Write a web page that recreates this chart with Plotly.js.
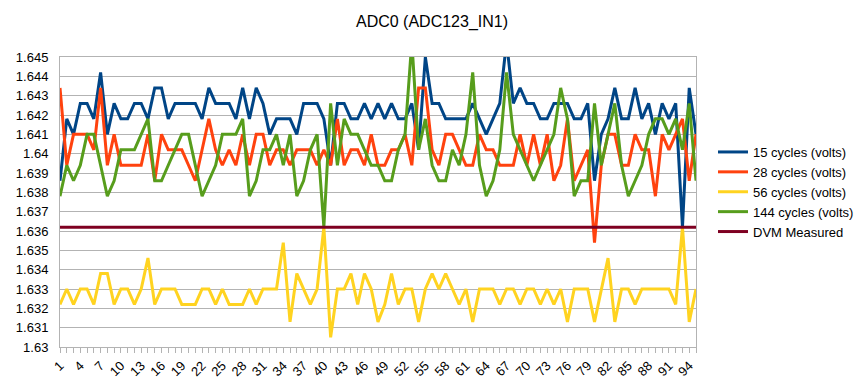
<!DOCTYPE html>
<html>
<head>
<meta charset="utf-8">
<script src="https://cdn.plot.ly/plotly-3.0.1.min.js"></script>
<style>
html,body{margin:0;padding:0;background:#fff;}
#chart{width:864px;height:384px;}
</style>
</head>
<body>
<div id="chart"></div>
<script>
// Sample numbers (categories)
const samples = [1,2,3,4,5,6,7,8,9,10,11,12,13,14,15,16,17,18,19,20,21,22,23,24,25,26,27,28,29,30,31,32,33,34,35,36,37,38,39,40,41,42,43,44,45,46,47,48,49,50,51,52,53,54,55,56,57,58,59,60,61,62,63,64,65,66,67,68,69,70,71,72,73,74,75,76,77,78,79,80,81,82,83,84,85,86,87,88,89,90,91,92,93,94,95];

// 15 cycles (volts)
const cyc15 = [1.6386,1.6418,1.6410,1.6426,1.6426,1.6418,1.6442,1.6410,1.6426,1.6418,
1.6418,1.6426,1.6426,1.6418,1.6434,1.6434,1.6418,1.6426,1.6426,1.6426,
1.6426,1.6418,1.6434,1.6426,1.6426,1.6426,1.6418,1.6434,1.6418,1.6434,
1.6426,1.6410,1.6418,1.6418,1.6418,1.6410,1.6426,1.6426,1.6426,1.6418,
1.6394,1.6426,1.6426,1.6418,1.6418,1.6426,1.6418,1.6426,1.6418,1.6426,
1.6418,1.6418,1.6426,1.6402,1.6450,1.6426,1.6426,1.6418,1.6418,1.6418,
1.6418,1.6426,1.6418,1.6410,1.6418,1.6426,1.6458,1.6426,1.6434,1.6426,
1.6426,1.6418,1.6418,1.6426,1.6426,1.6426,1.6418,1.6418,1.6426,1.6386,
1.6410,1.6418,1.6434,1.6418,1.6418,1.6434,1.6418,1.6426,1.6410,1.6426,
1.6418,1.6426,1.6362,1.6434,1.6410];

// 28 cycles (volts)
const cyc28 = [1.6434,1.6394,1.6410,1.6410,1.6410,1.6402,1.6434,1.6394,1.6410,1.6394,
1.6394,1.6394,1.6394,1.6410,1.6386,1.6410,1.6402,1.6402,1.6402,1.6394,
1.6386,1.6402,1.6418,1.6402,1.6394,1.6402,1.6394,1.6410,1.6394,1.6410,
1.6410,1.6394,1.6402,1.6402,1.6394,1.6402,1.6402,1.6402,1.6394,1.6402,
1.6394,1.6418,1.6394,1.6402,1.6402,1.6394,1.6410,1.6394,1.6394,1.6402,
1.6402,1.6410,1.6394,1.6434,1.6434,1.6402,1.6394,1.6410,1.6410,1.6402,
1.6394,1.6394,1.6410,1.6402,1.6402,1.6394,1.6394,1.6394,1.6410,1.6394,
1.6410,1.6394,1.6410,1.6386,1.6394,1.6418,1.6386,1.6394,1.6402,1.6354,
1.6394,1.6410,1.6410,1.6394,1.6394,1.6410,1.6402,1.6402,1.6378,1.6410,
1.6402,1.6410,1.6418,1.6386,1.6410];

// 56 cycles (volts)
const cyc56 = [1.6322,1.6330,1.6322,1.6330,1.6330,1.6322,1.6338,1.6338,1.6322,1.6330,
1.6330,1.6322,1.6330,1.6346,1.6322,1.6330,1.6330,1.6330,1.6322,1.6322,
1.6322,1.6330,1.6330,1.6322,1.6330,1.6322,1.6322,1.6322,1.6330,1.6322,
1.6330,1.6330,1.6330,1.6354,1.6313,1.6338,1.6330,1.6322,1.6330,1.6362,
1.6305,1.6330,1.6330,1.6338,1.6322,1.6338,1.6330,1.6313,1.6322,1.6338,
1.6322,1.6330,1.6330,1.6313,1.6330,1.6338,1.6330,1.6338,1.6330,1.6322,
1.6330,1.6313,1.6330,1.6330,1.6330,1.6322,1.6330,1.6330,1.6322,1.6330,
1.6330,1.6322,1.6330,1.6322,1.6330,1.6313,1.6330,1.6330,1.6330,1.6313,
1.6330,1.6346,1.6313,1.6330,1.6330,1.6322,1.6330,1.6330,1.6330,1.6330,
1.6330,1.6322,1.6362,1.6313,1.6330];

// 144 cycles (volts)
const cyc144 = [1.6378,1.6394,1.6386,1.6394,1.6410,1.6410,1.6394,1.6378,1.6386,1.6402,
1.6402,1.6402,1.6410,1.6418,1.6386,1.6386,1.6394,1.6402,1.6410,1.6410,
1.6394,1.6378,1.6386,1.6394,1.6410,1.6410,1.6410,1.6418,1.6378,1.6386,
1.6402,1.6402,1.6410,1.6394,1.6410,1.6378,1.6386,1.6402,1.6410,1.6362,
1.6426,1.6394,1.6418,1.6410,1.6410,1.6402,1.6394,1.6394,1.6386,1.6386,
1.6402,1.6410,1.6458,1.6402,1.6418,1.6394,1.6386,1.6386,1.6402,1.6394,
1.6410,1.6442,1.6394,1.6378,1.6386,1.6402,1.6442,1.6410,1.6402,1.6394,
1.6386,1.6394,1.6402,1.6410,1.6434,1.6418,1.6378,1.6386,1.6386,1.6426,
1.6394,1.6410,1.6426,1.6394,1.6378,1.6386,1.6394,1.6410,1.6418,1.6418,
1.6410,1.6418,1.6402,1.6426,1.6386];

// DVM Measured
const dvm = [1.6362,1.6362,1.6362,1.6362,1.6362,1.6362,1.6362,1.6362,1.6362,1.6362,
1.6362,1.6362,1.6362,1.6362,1.6362,1.6362,1.6362,1.6362,1.6362,1.6362,
1.6362,1.6362,1.6362,1.6362,1.6362,1.6362,1.6362,1.6362,1.6362,1.6362,
1.6362,1.6362,1.6362,1.6362,1.6362,1.6362,1.6362,1.6362,1.6362,1.6362,
1.6362,1.6362,1.6362,1.6362,1.6362,1.6362,1.6362,1.6362,1.6362,1.6362,
1.6362,1.6362,1.6362,1.6362,1.6362,1.6362,1.6362,1.6362,1.6362,1.6362,
1.6362,1.6362,1.6362,1.6362,1.6362,1.6362,1.6362,1.6362,1.6362,1.6362,
1.6362,1.6362,1.6362,1.6362,1.6362,1.6362,1.6362,1.6362,1.6362,1.6362,
1.6362,1.6362,1.6362,1.6362,1.6362,1.6362,1.6362,1.6362,1.6362,1.6362,
1.6362,1.6362,1.6362,1.6362,1.6362];

const seriesNames = ["15 cycles (volts)","28 cycles (volts)","56 cycles (volts)","144 cycles (volts)","DVM Measured"];
const seriesColors = ["#004586","#ff420e","#ffd320","#579d1c","#7e0021"];

const xLabelled = [1,4,7,10,13,16,19,22,25,28,31,34,37,40,43,46,49,52,55,58,61,64,67,70,73,76,79,82,85,88,91,94];
const yTickVals = [1.63,1.631,1.632,1.633,1.634,1.635,1.636,1.637,1.638,1.639,1.64,1.641,1.642,1.643,1.644,1.645];
const yTickText = ["1.63","1.631","1.632","1.633","1.634","1.635","1.636","1.637","1.638","1.639","1.64","1.641","1.642","1.643","1.644","1.645"];

const seriesData = [cyc15, cyc28, cyc56, cyc144, dvm];
const traces = seriesData.map((ys, k) => ({
  type: 'scatter', mode: 'lines',
  x: samples, y: ys,
  name: seriesNames[k],
  line: {color: seriesColors[k], width: 3},
  hoverinfo: 'x+y+name'
}));

const xTickText = samples.map(s => xLabelled.includes(s) ? String(s) : '');

const font = "'Liberation Sans', Arial, sans-serif";
const layout = {
  width: 864, height: 384,
  margin: {l: 60, r: 168, t: 57, b: 37, pad: 0, autoexpand: false},
  paper_bgcolor: '#fff', plot_bgcolor: '#fff',
  font: {family: font, size: 13, color: '#000'},
  title: {text: 'ADC0 (ADC123_IN1)', font: {family: font, size: 16, color: '#000'},
          x: 0.5, xref: 'container', y: 0.943, yref: 'container', yanchor: 'middle', automargin: false},
  xaxis: {
    range: [1, 95], tickmode: 'array', tickvals: samples, ticktext: xTickText,
    tickangle: -45, ticks: 'outside', ticklen: 5, tickcolor: '#b3b3b3', tickwidth: 1,
    showgrid: false, zeroline: false, showline: true, linecolor: '#b3b3b3', linewidth: 1, mirror: true,
    tickfont: {family: font, size: 13, color: '#000'}, fixedrange: true, automargin: false
  },
  yaxis: {
    range: [1.63, 1.645], tickmode: 'array', tickvals: yTickVals, ticktext: yTickText,
    ticks: '', showgrid: true, gridcolor: '#b3b3b3', gridwidth: 1, zeroline: false,
    showline: true, linecolor: '#b3b3b3', linewidth: 1, mirror: true,
    tickfont: {family: font, size: 13, color: '#000'}, ticklabelstandoff: 8, fixedrange: true, automargin: false
  },
  showlegend: true,
  legend: {x: (713 - 60) / 636, xref: 'paper', xanchor: 'left', yref: 'paper', y: (347 - 137) / 290, yanchor: 'top',
           font: {family: font, size: 13, color: '#000'}, bgcolor: 'rgba(0,0,0,0)', borderwidth: 0,
           tracegroupgap: 0, itemwidth: 30}
};

Plotly.newPlot('chart', traces, layout, {displayModeBar: false, staticPlot: true});
</script>
</body>
</html>
